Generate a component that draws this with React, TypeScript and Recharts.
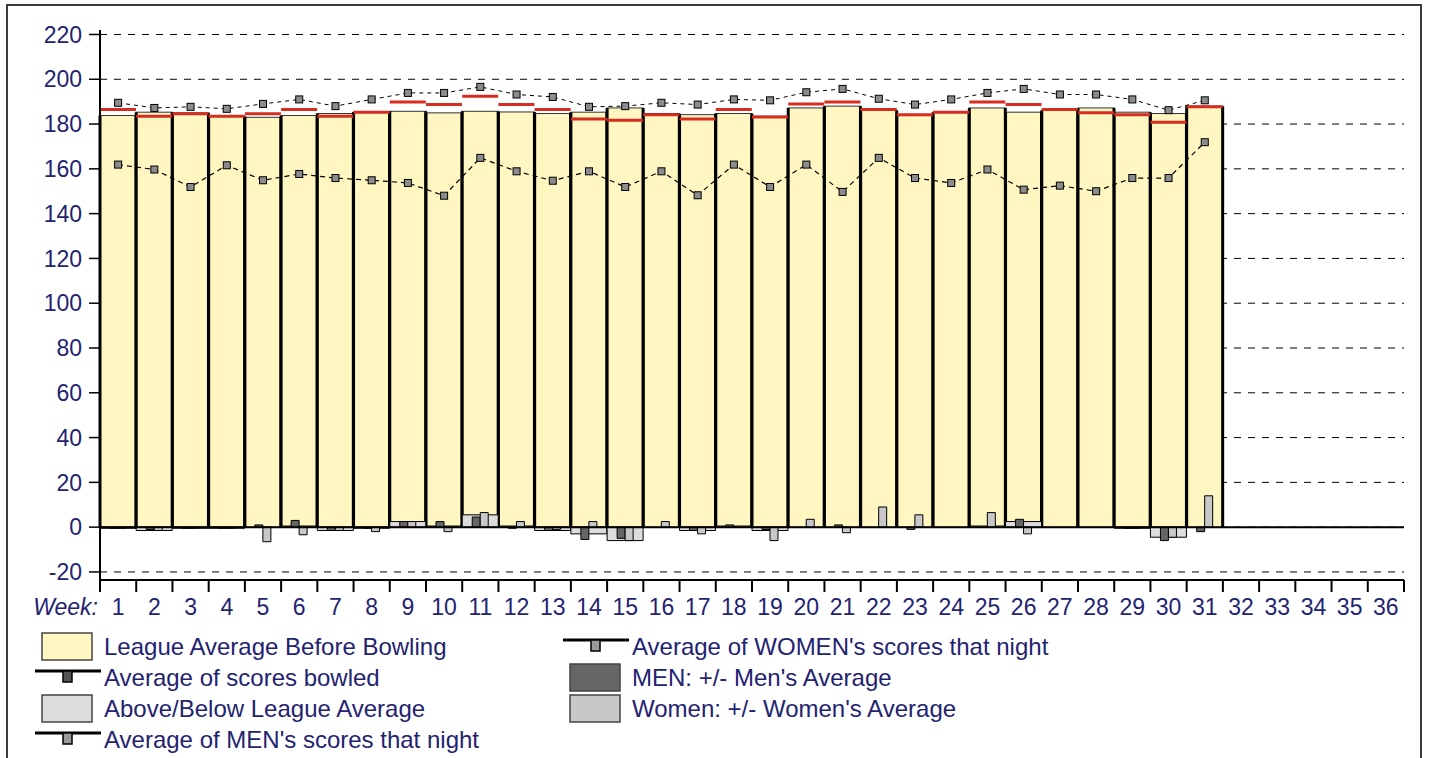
import React from 'react';
import { BarChart, Bar, Line, XAxis, YAxis, CartesianGrid, ReferenceLine, Label } from 'recharts';

// week numbers on the x axis
const weeks = ['1', '2', '3', '4', '5', '6', '7', '8', '9', '10', '11', '12', '13', '14', '15', '16', '17', '18',
  '19', '20', '21', '22', '23', '24', '25', '26', '27', '28', '29', '30', '31', '32', '33', '34', '35', '36'];

// league average before bowling (yellow bars)
const leagueAvg = [183.8, 185.3, 185.0, 183.5, 183.0, 183.8, 184.7, 185.4, 185.7, 185.0, 185.7, 185.4, 184.7, 185.3, 187.2, 184.7,
  184.2, 184.7, 183.5, 187.2, 188.0, 186.2, 183.8, 185.3, 187.2, 185.3, 186.2, 187.2, 185.3, 184.7, 188.0];

// average of scores bowled (red marks)
const scoresBowled = [186.5, 183.5, 184.6, 183.5, 184.6, 186.5, 183.5, 185.3, 189.8, 188.7, 192.4, 188.7, 186.5, 182.3, 181.7, 184.2,
  182.3, 186.5, 183.2, 189.0, 189.8, 186.5, 184.2, 185.3, 189.8, 188.7, 186.5, 185.0, 184.2, 180.8, 187.7];

const menNight = [189.5, 187.2, 187.7, 186.8, 189.0, 191.0, 188.0, 191.0, 193.9, 193.9, 196.6, 193.2, 192.1, 187.7, 188.0, 189.5,
  188.7, 191.0, 190.6, 194.2, 195.7, 191.3, 188.7, 191.0, 193.9, 195.7, 193.2, 193.2, 191.0, 186.2, 190.6];

const womenNight = [161.9, 159.7, 151.9, 161.6, 154.9, 157.7, 155.9, 154.9, 153.7, 148.0, 164.9, 158.9, 154.7, 158.9, 151.9, 158.9,
  148.2, 161.9, 151.9, 161.9, 149.7, 164.9, 155.9, 153.7, 159.7, 150.7, 152.5, 150.0, 155.9, 155.9, 171.9];

// +/- bars near zero
const leagueDiff = [-0.5, -1.5, -0.5, -0.5, 0, 0.5, -1.5, -0.5, 2.5, 0.5, 5.5, 0.5, -1.5, -3, -6, 0, -1.5, 0.5, -1.5, 0, 0, 0,
  0, 0, 0.5, 2.5, 0, 0, -0.5, -4.5, 0];
const menDiff = [-0.5, -1, -0.5, -0.5, 1, 3, -1.5, -0.5, 2.5, 2.5, 4.5, -0.5, -1.5, -5.5, -5, 0, -1.5, 1, -1, 0, 1, 0, -1, 0,
  0, 3.5, 0, 0, -0.5, -6, -2];
const womenDiff = [-0.5, -1.5, -0.5, -0.5, -6.5, -3.4, -1.5, -2, 2.5, -2, 6.5, 2.5, -1, 2.5, -6, 2.5, -3, 0, -6, 3.5, -2.5, 9,
  5.5, 0, 6.5, -3, 0, 0, -0.5, -4.5, 14];

const yTicks = [-20, 0, 20, 40, 60, 80, 100, 120, 140, 160, 180, 200, 220];

const data = weeks.map((week, i) => ({
  week,
  league: leagueAvg[i] ?? null,
  bowled: scoresBowled[i] ?? null,
  men: menNight[i] ?? null,
  women: womenNight[i] ?? null,
  diff: leagueDiff[i] ?? null,
  menDiff: menDiff[i] ?? null,
  womenDiff: womenDiff[i] ?? null,
}));

const FONT = "'Liberation Sans', Arial, sans-serif";
const TEXT = '#232370';
const YELLOW = '#FFF6C2';
const RED = '#D62D20';
const LIGHT = '#DDDDDD';
const DARK = '#666666';
const MID = '#C8C8C8';

const LeagueBar = (props: any) => {
  const { x, y, width, height } = props;
  if (!height) return null;
  return (
    <g>
      <rect x={x} y={y} width={width} height={height} fill={YELLOW} stroke="#333" strokeWidth={1} />
      <line x1={x} x2={x} y1={y} y2={y + height} stroke="#000" strokeWidth={3} />
      <line x1={x + width} x2={x + width} y1={y} y2={y + height} stroke="#000" strokeWidth={3} />
    </g>
  );
};

const RedMark = (props: any) => {
  const { x, y, width } = props;
  if (y == null || isNaN(y)) return null;
  return <line x1={x} x2={x + width} y1={y} y2={y} stroke={RED} strokeWidth={3} />;
};

const SquareDot = (props: any) => {
  const { cx, cy, index } = props;
  if (cx == null || cy == null || isNaN(cy)) return <g key={index} />;
  return <rect key={index} x={cx - 3.5} y={cy - 3.5} width={7} height={7} fill="#8c8c8c" stroke="#000" strokeWidth={1} />;
};

const WeekTick = (props: any) => {
  const { x, y, payload, index, visibleTicksCount } = props;
  const half = payload?.offset ?? 0;
  return (
    <g>
      <line x1={x - half} x2={x - half} y1={y} y2={y + 12} stroke="#000" strokeWidth={2} />
      {index === visibleTicksCount - 1 && (
        <line x1={x + half} x2={x + half} y1={y} y2={y + 12} stroke="#000" strokeWidth={2} />
      )}
      <text x={x} y={y + 27} dy="0.35em" textAnchor="middle" fill={TEXT} fontSize={23} fontFamily={FONT}>
        {payload.value}
      </text>
    </g>
  );
};

const legendLeft = [
  { label: 'League Average Before Bowling', kind: 'box', fill: YELLOW },
  { label: 'Average of scores bowled', kind: 'line', fill: '#555555' },
  { label: 'Above/Below League Average', kind: 'box', fill: LIGHT },
  { label: "Average of MEN's scores that night", kind: 'line', fill: '#9a9a9a' },
];
const legendRight = [
  { label: "Average of WOMEN's scores that night", kind: 'line', fill: '#9a9a9a' },
  { label: "MEN: +/- Men's Average", kind: 'box', fill: DARK },
  { label: "Women: +/- Women's Average", kind: 'box', fill: MID },
];

const LegendIcon = ({ kind, fill }: { kind: string; fill: string }) => (
  <svg width={66} height={31} style={{ display: 'block', flex: 'none' }}>
    {kind === 'box' ? (
      <rect x={7} y={2} width={50} height={27} fill={fill} stroke="#444" strokeWidth={1.5} />
    ) : (
      <g>
        <line x1={0} x2={66} y1={9} y2={9} stroke="#000" strokeWidth={3} />
        <rect x={28} y={9} width={9} height={11} fill={fill} stroke="#000" strokeWidth={1.5} />
      </g>
    )}
  </svg>
);

const LegendColumn = ({ items, left }: { items: any[]; left: number }) => (
  <div style={{ position: 'absolute', left, top: 625 }}>
    {items.map((it) => (
      <div key={it.label} style={{ display: 'flex', alignItems: 'center', height: 31 }}>
        <LegendIcon kind={it.kind} fill={it.fill} />
        <span style={{ marginLeft: 3, fontSize: 24, color: TEXT, whiteSpace: 'nowrap', fontFamily: FONT }}>{it.label}</span>
      </div>
    ))}
  </div>
);

export default function App() {
  return (
    <div
      style={{
        position: 'absolute',
        left: 6,
        top: 4,
        width: 1412,
        height: 752,
        border: '2px solid #3a3a3a',
        borderBottom: 'none',
        background: '#fff',
        overflow: 'hidden',
      }}
    >
      <BarChart
        width={1412}
        height={640}
        data={data}
        margin={{ top: 24, right: 16, bottom: 12, left: 32 }}
        barCategoryGap={0}
        barGap={0}
      >
        <CartesianGrid xAxisId="main" vertical={false} stroke="#000" strokeDasharray="7 7" syncWithTicks />
        <XAxis
          xAxisId="main"
          dataKey="week"
          height={54}
          tickSize={0}
          tickMargin={0}
          tickLine={false}
          axisLine={{ stroke: '#000', strokeWidth: 2 }}
          tick={<WeekTick />}
          interval={0}
        >
          <Label value="Week:" position="left" offset={2} fill={TEXT} fontSize={23} fontStyle="italic" fontFamily={FONT} />
        </XAxis>
        <XAxis xAxisId="red" dataKey="week" hide height={0} />
        <XAxis xAxisId="diff" dataKey="week" hide height={0} />
        <XAxis xAxisId="gender" dataKey="week" hide height={0} />
        <YAxis
          type="number"
          domain={[-23.6, 222]}
          ticks={yTicks}
          interval={0}
          width={60}
          tickSize={11}
          tickMargin={7}
          axisLine={{ stroke: '#000', strokeWidth: 2 }}
          tickLine={{ stroke: '#000', strokeWidth: 1.5 }}
          tick={{ fill: TEXT, fontSize: 23, fontFamily: FONT }}
        />
        <Bar xAxisId="main" dataKey="league" shape={<LeagueBar />} isAnimationActive={false} />
        <Bar xAxisId="red" dataKey="bowled" shape={<RedMark />} isAnimationActive={false} />
        <Bar xAxisId="diff" dataKey="diff" fill={LIGHT} stroke="#000" strokeWidth={1} isAnimationActive={false} />
        <Bar xAxisId="gender" dataKey="menDiff" barSize={8} fill={DARK} stroke="#000" strokeWidth={1} isAnimationActive={false} />
        <Bar xAxisId="gender" dataKey="womenDiff" barSize={8} fill={MID} stroke="#000" strokeWidth={1} isAnimationActive={false} />
        <ReferenceLine xAxisId="main" y={0} stroke="#000" strokeWidth={2} />
        <Line
          xAxisId="main"
          dataKey="men"
          stroke="#000"
          strokeWidth={1}
          strokeDasharray="4 4"
          dot={<SquareDot />}
          activeDot={false}
          isAnimationActive={false}
        />
        <Line
          xAxisId="main"
          dataKey="women"
          stroke="#000"
          strokeWidth={1.2}
          strokeDasharray="5 4"
          dot={<SquareDot />}
          activeDot={false}
          isAnimationActive={false}
        />
      </BarChart>
      <LegendColumn items={legendLeft} left={27} />
      <LegendColumn items={legendRight} left={555} />
    </div>
  );
}
